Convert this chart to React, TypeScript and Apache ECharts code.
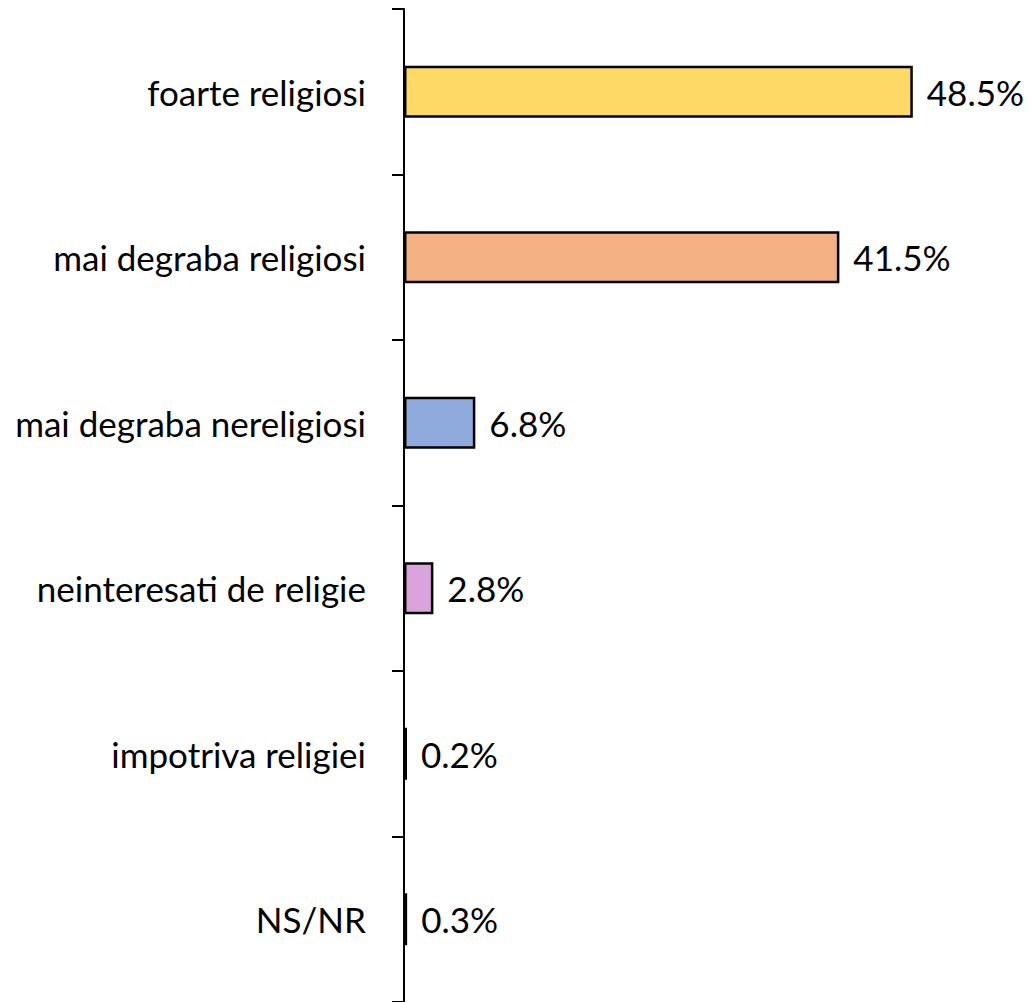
import React, { useEffect, useRef } from "react";
import * as echarts from "echarts";

const categories = [
  "foarte religiosi",
  "mai degraba religiosi",
  "mai degraba nereligiosi",
  "neinteresati de religie",
  "impotriva religiei",
  "NS/NR",
];
const values = [48.5, 41.5, 6.8, 2.8, 0.2, 0.3];
const colors = ["#FFD966", "#F4B183", "#8FAADC", "#DBA3DB", "#000000", "#000000"];

const FONT = "Lato";

export default function App() {
  const ref = useRef<HTMLDivElement>(null);
  useEffect(() => {
    if (!ref.current) return;
    const chart = echarts.init(ref.current, undefined, { renderer: "svg" });
    chart.setOption({
      animation: false,
      backgroundColor: "#FFFFFF",
      grid: { left: 404, top: 9, width: 577, height: 994, containLabel: false },
      xAxis: { type: "value", min: 0, max: 55, show: false },
      yAxis: {
        type: "category",
        data: categories,
        inverse: true,
        axisLine: { show: true, lineStyle: { color: "#000", width: 2 } },
        axisTick: { show: true, length: 12, lineStyle: { color: "#000", width: 2 } },
        axisLabel: { fontFamily: FONT, fontSize: 35, color: "#000", margin: 38 },
        splitLine: { show: false },
      },
      series: [
        {
          type: "bar",
          barWidth: 52,
          barMinHeight: 3,
          data: values.map((v, i) => ({
            value: v,
            itemStyle: { color: colors[i], borderColor: "#000", borderWidth: 2.5 },
          })),
          label: {
            show: true,
            position: "right",
            distance: 14,
            formatter: (p: any) => p.value.toFixed(1) + "%",
            fontFamily: FONT,
            fontSize: 35,
            color: "#000",
          },
        },
      ],
    });
    return () => chart.dispose();
  }, []);
  return (
    <div
      ref={ref}
      style={{ position: "fixed", left: 0, top: 0, width: 1033, height: 1002, background: "#fff" }}
    />
  );
}
